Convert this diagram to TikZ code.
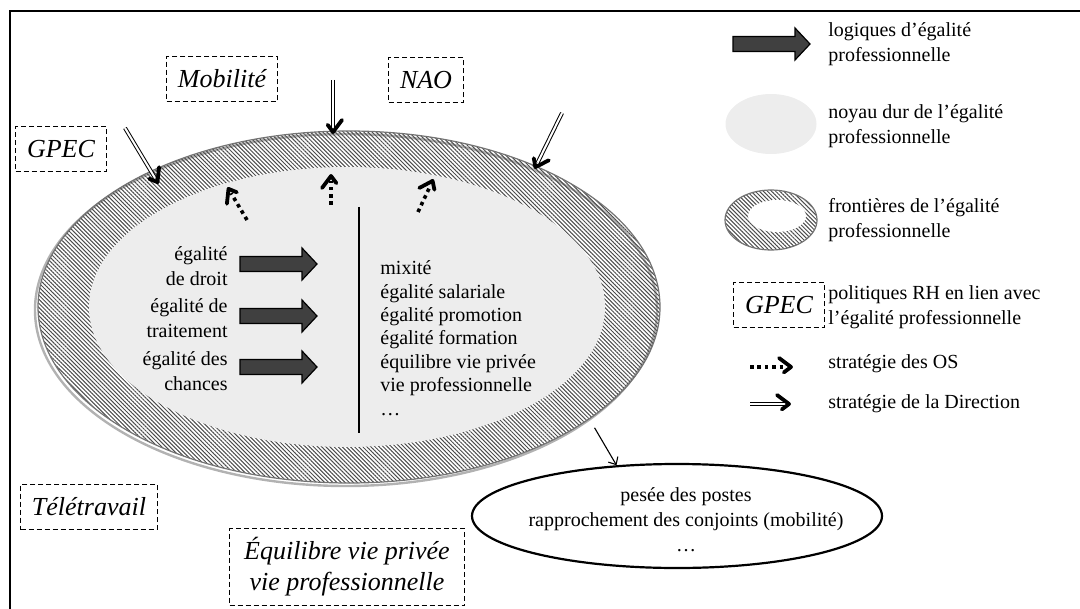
\documentclass[tikz,border=0pt]{standalone}
\usepackage{fontspec}
\setmainfont{Liberation Serif}
\usetikzlibrary{shapes.geometric,patterns.meta,arrows.meta,positioning}

\tikzset{
	politique/.style={draw,dash pattern=on 2.5pt off 1.5pt,line width=0.65pt,inner xsep=5.7pt,inner ysep=0pt,minimum height=22.5pt,font=\fontsize{13}{15.5}\selectfont\itshape,align=center},
	frontiere/.style={ellipse,draw=black!55,line width=0.6pt,pattern={Lines[angle=-45,distance=1.45pt,line width=0.5pt]},pattern color=black!70,inner sep=0pt},
	noyau/.style={ellipse,fill=black!7,inner sep=0pt},
	texte/.style={font=\fontsize{10}{12.5}\selectfont,inner sep=0pt},
	os/.style={line width=1.8pt,dash pattern=on 1.8pt off 1.9pt,shorten >=3pt},
	direction/.style={double,double distance=1pt,line width=0.5pt,shorten >=3pt},
	chevron/.pic={\draw[line width=1.9pt,solid,line join=round,line cap=round] (-13,-9) -- (-1,0) -- (-13,9);},
	logique/.pic={\draw[fill=black!75,line width=0.6pt] (0,-7.5) -- (62,-7.5) -- (62,-16) -- (77,0) -- (62,16) -- (62,7.5) -- (0,7.5) -- cycle;}
}

\begin{document}
\begin{tikzpicture}[x=0.5pt,y=-0.5pt]
		\useasboundingbox (0,0) rectangle (1080,609);
		\draw[line width=1.3pt] (1080,11) -- (10,11) -- (10,609);
		% noyau dur et frontieres
		\draw[black!30,line width=1.2pt] (346,310) ellipse [x radius=311,y radius=176];
		\node[frontiere,minimum width=311pt,minimum height=176pt] (frontiere) at (349,307) {};
		\node[noyau,minimum width=258pt,minimum height=140pt] (noyau) at (347,307) {};
		\draw[line width=0.6pt] (359,207) -- (359,433);
		\node[texte,anchor=east,align=right] (droit) at (228,266) {égalité\\de droit};
		\node[texte,anchor=east,align=right] (traitement) at (228,318) {égalité de\\traitement};
		\node[texte,anchor=east,align=right] (chances) at (228,371) {égalité des\\chances};
		\foreach \y in {264,316,367}
			\pic at (240,\y) {logique};
		\node[texte,anchor=west,align=left,font=\fontsize{10}{11.7}\selectfont] (indicateurs) at (380,338)
			{mixité\\égalité salariale\\égalité promotion\\égalité formation\\équilibre vie privée\\vie professionnelle\\…};
		% politiques RH
		\node[politique] (mobilite) at (222,79) {Mobilité};
		\node[politique] (nao) at (426,80) {NAO};
		\node[politique] (gpec) at (61,149) {GPEC};
		\node[politique] (teletravail) at (89,507) {Télétravail};
		\node[politique,minimum width=117.5pt,minimum height=38.5pt] (equilibre) at (347,567) {Équilibre vie privée\\vie professionnelle};
		% strategies
		\coordinate (dirA) at (125,128); \coordinate (dirAfin) at (158,183);
		\coordinate (dirB) at (333,80); \coordinate (dirBfin) at (333,133);
		\coordinate (dirC) at (562,113); \coordinate (dirCfin) at (535,168);
		\foreach \a in {dirA,dirB,dirC}
			\draw[direction] (\a) -- (\a fin) pic[pos=1,sloped,allow upside down]{chevron};
		\coordinate (osA) at (247,220); \coordinate (osAfin) at (228,188);
		\coordinate (osB) at (331,205); \coordinate (osBfin) at (331,175);
		\coordinate (osC) at (418,212); \coordinate (osCfin) at (433,180);
		\foreach \a in {osA,osB,osC}
			\draw[os] (\a) -- (\a fin) pic[pos=1,sloped,allow upside down]{chevron};
		% mesures
		\node[ellipse,draw,line width=1.1pt,minimum width=205pt,minimum height=52pt,inner sep=0pt] (mesures) at (677,516) {};
		\node[texte,align=center] (mesurestexte) at (686,520) {pesée des postes\\rapprochement des conjoints (mobilité)\\…};
		\draw[line width=0.55pt,-{Straight Barb[length=3pt,width=5.5pt]},shorten <=5pt] (frontiere.-25) -- (mesures.140);
		% legende
		\pic at (733,44) {logique};
		\node[texte,anchor=west,align=left] (leglogique) at (828,44) {logiques d’égalité\\professionnelle};
		\node[noyau,minimum width=45.5pt,minimum height=30pt] (legnoyau) at (771,124) {};
		\node[texte,anchor=west,align=left] (legnoyautexte) at (828,126) {noyau dur de l’égalité\\professionnelle};
		\node[frontiere,minimum width=46pt,minimum height=30pt] (legfrontiere) at (771,220) {};
		\node[ellipse,fill=white,minimum width=29pt,minimum height=16pt,inner sep=0pt] (legtrou) at (777,216) {};
		\node[texte,anchor=west,align=left] (legfrontieretexte) at (828,220) {frontières de l’égalité\\professionnelle};
		\node[politique] (leggpec) at (779,305) {GPEC};
		\node[texte,anchor=west,align=left] (legpolitique) at (828,307) {politiques RH en lien avec\\l’égalité professionnelle};
		\coordinate (legos) at (750,367); \coordinate (legosfin) at (792,367);
		\draw[os] (legos) -- (legosfin) pic[pos=1,sloped,allow upside down]{chevron};
		\node[texte,anchor=west] (legostexte) at (828,364) {stratégie des OS};
		\coordinate (legdir) at (750,404); \coordinate (legdirfin) at (790,404);
		\draw[direction] (legdir) -- (legdirfin) pic[pos=1,sloped,allow upside down]{chevron};
		\node[texte,anchor=west] (legdirtexte) at (828,404) {stratégie de la Direction};
	\end{tikzpicture}
\end{document}
